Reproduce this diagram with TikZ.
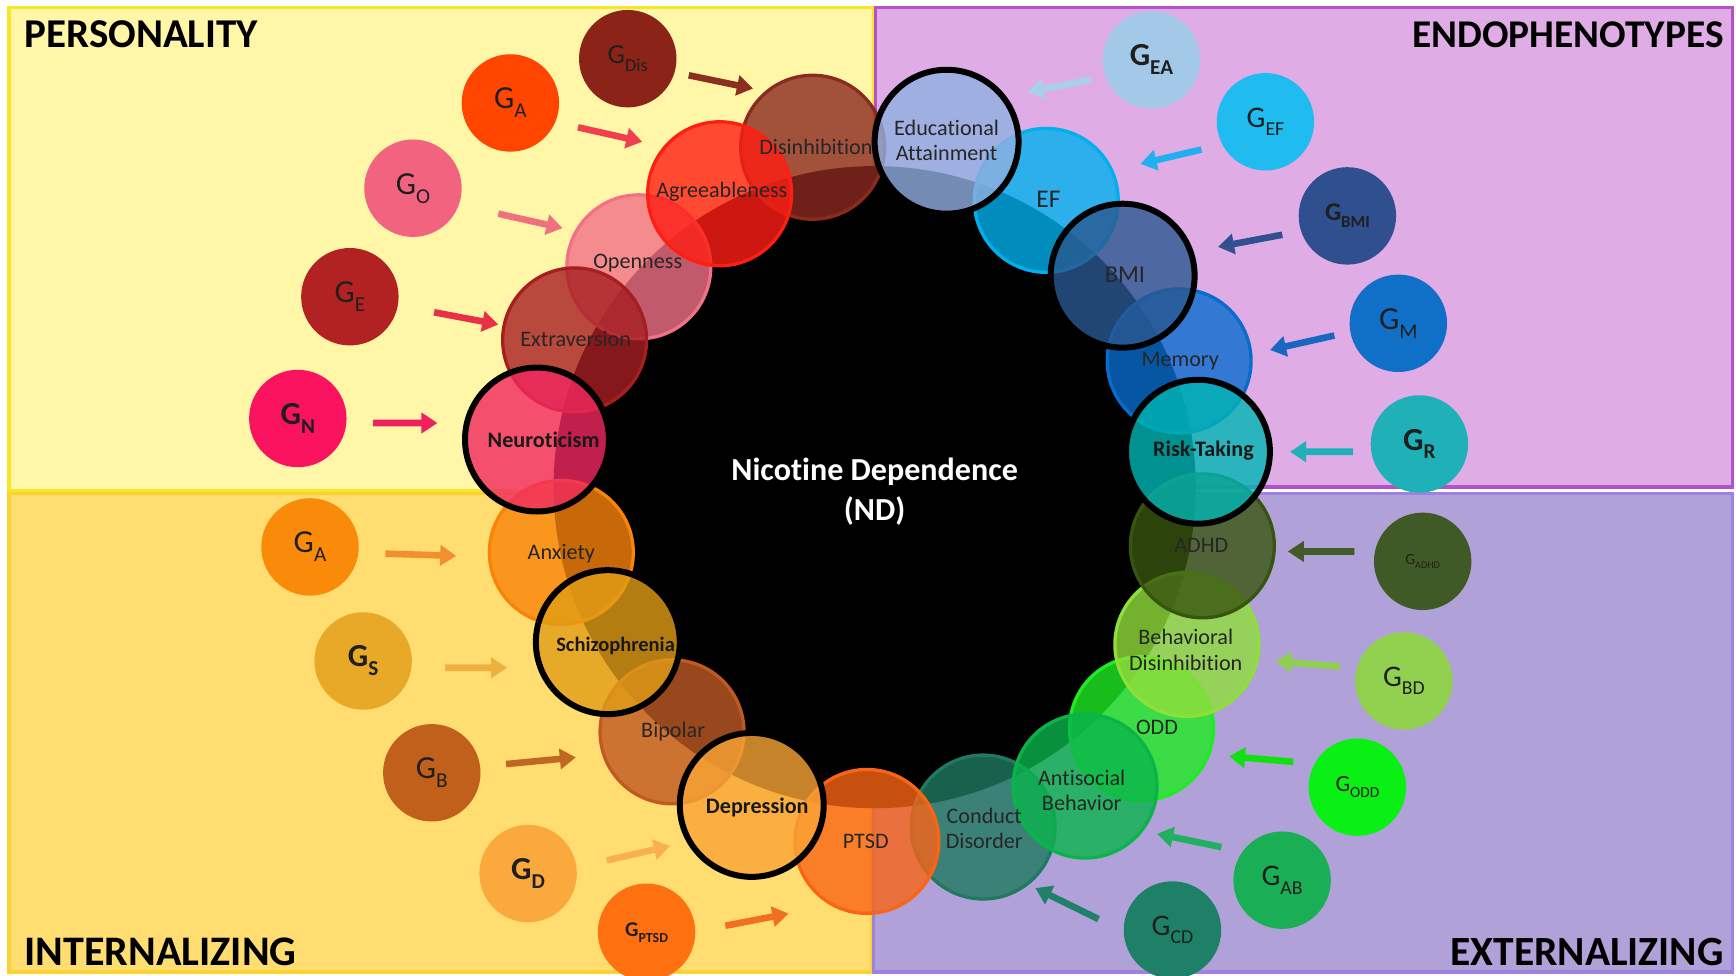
\documentclass[tikz,border=0pt]{standalone}
\usepackage{fontspec}
\setmainfont{Carlito}[Ligatures=NoCommon]
\usetikzlibrary{arrows.meta,calc}
% quadrant colours
\definecolor{persBG}{RGB}{255,246,168}\definecolor{persBD}{RGB}{250,230,40}
\definecolor{endoBG}{RGB}{223,172,230}\definecolor{endoBD}{RGB}{180,80,200}
\definecolor{intBG}{RGB}{255,221,112}\definecolor{intBD}{RGB}{250,210,50}
\definecolor{extBG}{RGB}{177,161,217}\definecolor{extBD}{RGB}{160,130,220}
% gene colours
\definecolor{gDis}{RGB}{139,35,25}\definecolor{gA}{RGB}{255,69,0}
\definecolor{gO}{RGB}{242,99,128}\definecolor{gE}{RGB}{178,34,34}
\definecolor{gN}{RGB}{250,20,95}\definecolor{gAtwo}{RGB}{250,138,10}
\definecolor{gS}{RGB}{232,168,40}\definecolor{gB}{RGB}{192,96,26}
\definecolor{gD}{RGB}{250,170,60}\definecolor{gPTSD}{RGB}{255,112,16}
\definecolor{gEA}{RGB}{164,200,232}\definecolor{gEF}{RGB}{32,188,240}
\definecolor{gBMI}{RGB}{47,79,143}\definecolor{gM}{RGB}{16,112,200}
\definecolor{gR}{RGB}{32,176,184}\definecolor{gADHD}{RGB}{63,90,38}
\definecolor{gBD}{RGB}{146,208,80}\definecolor{gODD}{RGB}{10,240,20}
\definecolor{gAB}{RGB}{26,174,85}\definecolor{gCD}{RGB}{31,128,104}
% ring colours
\definecolor{rDis}{RGB}{139,42,32}\definecolor{rAgr}{RGB}{255,30,20}
\definecolor{rOpe}{RGB}{242,113,133}\definecolor{rExt}{RGB}{167,30,33}
\definecolor{rNeu}{RGB}{242,39,95}\definecolor{rAnx}{RGB}{249,132,10}
\definecolor{rSch}{RGB}{226,157,22}\definecolor{rBip}{RGB}{192,89,35}
\definecolor{rDep}{RGB}{249,164,53}\definecolor{rPTSD}{RGB}{249,101,22}
\definecolor{rCD}{RGB}{31,122,96}\definecolor{rAB}{RGB}{10,180,75}
\definecolor{rODD}{RGB}{31,235,34}\definecolor{rBD}{RGB}{144,222,59}
\definecolor{rADHD}{RGB}{56,85,15}\definecolor{rRisk}{RGB}{0,182,180}
\definecolor{rMem}{RGB}{8,108,205}\definecolor{rBMI}{RGB}{42,88,145}
\definecolor{rEF}{RGB}{0,176,236}\definecolor{rEA}{RGB}{145,176,224}
% arrow colours
\definecolor{aDis}{RGB}{139,48,32}\definecolor{aA}{RGB}{240,64,80}
\definecolor{aO}{RGB}{240,112,128}\definecolor{aE}{RGB}{232,48,72}
\definecolor{aN}{RGB}{240,32,96}\definecolor{aAtwo}{RGB}{240,144,48}
\definecolor{aS}{RGB}{240,176,64}\definecolor{aB}{RGB}{192,104,32}
\definecolor{aD}{RGB}{248,176,80}\definecolor{aPTSD}{RGB}{240,112,32}
\definecolor{aEA}{RGB}{168,208,232}\definecolor{aEF}{RGB}{32,176,240}
\definecolor{aBMI}{RGB}{48,80,144}\definecolor{aM}{RGB}{24,104,192}
\definecolor{aR}{RGB}{32,176,184}\definecolor{aADHD}{RGB}{64,90,40}
\definecolor{aBD}{RGB}{144,208,80}\definecolor{aODD}{RGB}{16,224,16}
\definecolor{aAB}{RGB}{32,176,96}\definecolor{aCD}{RGB}{32,128,104}
\newcommand\gsubx[1]{\raisebox{-0.28em}{\scalebox{0.66}{#1}}}
\tikzset{
  quad/.style 2 args={fill=#1,draw=#2,line width=3.3pt},
  ring/.style={circle,minimum size=130pt,inner sep=0pt,fill=#1,fill opacity=0.8,draw=#1,line width=3.3pt},
  ringk/.style={circle,minimum size=130pt,inner sep=0pt,fill=#1,fill opacity=0.8,draw=black,line width=6pt},
  gene/.style={circle,minimum size=88pt,inner sep=0pt,fill=#1,text=black!88},
  lab/.style={font=\fontsize{20}{23}\selectfont,text=black!85,align=center,inner sep=0pt},
  labb/.style={font=\bfseries\fontsize{20}{23}\selectfont,text=black!90,align=center,inner sep=0pt},
  arr/.style={draw=#1,line width=6.6pt,-{Triangle[length=16pt,width=20pt]}},
  qtitle/.style={font=\bfseries\fontsize{#1}{40}\selectfont,text=black,inner sep=0pt},
}
\begin{document}
\begin{tikzpicture}[x=1pt,y=-1pt,scale=1.1071,transform shape]
\useasboundingbox (0,0) rectangle (1568,881);
\fill[white] (0,0) rectangle (1568,881);
% quadrants
\path[quad={persBG}{persBD}] (8,7) rectangle (789,443);
\path[quad={endoBG}{endoBD}] (791,7) rectangle (1565,440);
\path[quad={intBG}{intBD}] (8,446) rectangle (787,878);
\path[quad={extBG}{extBD}] (789,446) rectangle (1565,878);
% centre disc
\node[circle,fill=black,minimum size=580pt,inner sep=0pt] (disc) at (790,440) {};
% ring circles (coloured border)
\node[ring=rDis] (dis) at (734,133) {};
\node[ring=rOpe] (ope) at (577,241) {};
\node[ring=rAgr] (agr) at (650,175) {};
\node[ring=rExt] (ext) at (519,307) {};
\node[ring=rAnx] (anx) at (507,499) {};
\node[ring=rBip] (bip) at (607,661) {};
\node[ring=rCD] (cd) at (888,747) {};
\node[ring=rPTSD] (ptsd) at (783,760) {};
\node[ring=rODD] (odd) at (1031,658) {};
\node[ring=rAB] (ab) at (980,710) {};
\node[ring=rBD] (bd) at (1072,582) {};
\node[ring=rADHD] (adhd) at (1086,493) {};
\node[ring=rMem] (mem) at (1065,326) {};
\node[ring=rEF] (ef) at (945,181) {};
% labels of those
\node[lab] (ldis) at (737,133) {Disinhibition};
\node[lab] (lagr) at (652,173) {Agreeableness};
\node[lab] (lope) at (576,238) {Openness};
\node[lab] (lext) at (520,306) {Extraversion};
\node[lab] (lanx) at (507,500) {Anxiety};
\node[lab] (lbip) at (608,661) {Bipolar};
\node[lab] (lptsd) at (782,760) {PTSD};
\node[lab] (lcd) at (889,748) {Conduct\\Disorder};
\node[lab] (lab) at (977,714) {Antisocial\\Behavior};
\node[lab] (lodd) at (1045,657) {ODD};
\node[lab] (lbd) at (1071,587) {Behavioral\\Disinhibition};
\node[lab] (ladhd) at (1085,493) {ADHD};
\node[lab] (lmem) at (1066,326) {Memory};
\node[lab,font=\fontsize{23}{24}\selectfont] (lef) at (947,180) {EF};
% black-bordered ring circles
\node[ringk=rNeu] (neu) at (485,397) {};
\node[labb] (lneu) at (491,397) {Neuroticism};
\node[ringk=rSch] (sch) at (549,580) {};
\node[labb,font=\bfseries\fontsize{18.5}{23}\selectfont] (lsch) at (556,583) {Schizophrenia};
\node[ringk=rDep] (dep) at (679,727) {};
\node[labb] (ldep) at (684,729) {Depression};
\node[ringk=rRisk] (risk) at (1082,408) {};
\node[labb] (lrisk) at (1087,407) {Risk-Taking};
\node[ringk=rBMI] (bmi) at (1014,249) {};
\node[lab,font=\fontsize{22}{24}\selectfont] (lbmi) at (1016,248) {BMI};
\node[ringk=rEA] (ea) at (855,128) {};
\node[lab] (lea) at (855,127) {Educational\\Attainment};
% gene circles
\node[gene=gDis,font=\fontsize{25}{25}\selectfont] (gdis) at (567,53) {G\gsubx{Dis}};
\node[gene=gA,font=\fontsize{29}{29}\selectfont] (ga) at (461,93) {G\gsubx{A}};
\node[gene=gO,font=\fontsize{29}{29}\selectfont] (go) at (373,170) {G\gsubx{O}};
\node[gene=gE,font=\fontsize{29}{29}\selectfont] (ge) at (316,268) {G\gsubx{E}};
\node[gene=gN,font=\bfseries\fontsize{29}{29}\selectfont] (gn) at (269,378) {G\gsubx{N}};
\node[gene=gAtwo,font=\fontsize{29}{29}\selectfont] (gatwo) at (280,494) {G\gsubx{A}};
\node[gene=gS,font=\bfseries\fontsize{29}{29}\selectfont] (gs) at (328,597) {G\gsubx{S}};
\node[gene=gB,font=\fontsize{29}{29}\selectfont] (gb) at (390,698) {G\gsubx{B}};
\node[gene=gD,font=\bfseries\fontsize{29}{29}\selectfont] (gd) at (477,789) {G\gsubx{D}};
\node[gene=gPTSD,font=\bfseries\fontsize{19}{19}\selectfont] (gptsd) at (584,842) {G\gsubx{PTSD}};
\node[gene=gEA,font=\bfseries\fontsize{29}{29}\selectfont] (gea) at (1040,54) {G\gsubx{EA}};
\node[gene=gEF,font=\fontsize{27}{27}\selectfont] (gef) at (1143,110) {G\gsubx{EF}};
\node[gene=gBMI,font=\bfseries\fontsize{23}{23}\selectfont] (gbmi) at (1217,195) {G\gsubx{BMI}};
\node[gene=gM,font=\fontsize{29}{29}\selectfont] (gm) at (1263,292) {G\gsubx{M}};
\node[gene=gR,font=\bfseries\fontsize{29}{29}\selectfont] (gr) at (1282,401) {G\gsubx{R}};
\node[gene=gADHD,font=\fontsize{14}{14}\selectfont] (gadhd) at (1285,507) {G\gsubx{ADHD}};
\node[gene=gBD,font=\fontsize{27}{27}\selectfont] (gbd) at (1268,615) {G\gsubx{BD}};
\node[gene=gODD,font=\fontsize{21}{21}\selectfont] (godd) at (1226,711) {G\gsubx{ODD}};
\node[gene=gAB,font=\fontsize{27}{27}\selectfont] (gab) at (1158,795) {G\gsubx{AB}};
\node[gene=gCD,font=\fontsize{27}{27}\selectfont] (gcd) at (1059,840) {G\gsubx{CD}};
% arrows
\draw[arr=aDis] ($(gdis)+(55,15)$) -- ($(dis)+(-54,-53)$);
\draw[arr=aA] ($(ga)+(61,22)$) -- ($(agr)+(-70,-47)$);
\draw[arr=aO] ($(go)+(77,23)$) -- ($(ope)+(-69,-35)$);
\draw[arr=aE] ($(ge)+(76,14)$) -- ($(ext)+(-69,-14)$);
\draw[arr=aN] ($(gn)+(68,4)$) -- ($(neu)+(-90,-15)$);
\draw[arr=aAtwo] ($(gatwo)+(68,6)$) -- ($(anx)+(-95,3)$);
\draw[arr=aS] ($(gs)+(74,6)$) -- ($(sch)+(-91,23)$);
\draw[arr=aB] ($(gb)+(67,-8)$) -- ($(bip)+(-87,23)$);
\draw[arr=aD] ($(gd)+(71,-12)$) -- ($(dep)+(-74,37)$);
\draw[arr=aPTSD] ($(gptsd)+(71,-6)$) -- ($(ptsd)+(-71,65)$);
\draw[arr=aEA] ($(gea)+(-55,18)$) -- ($(ea)+(73,-45)$);
\draw[arr=aEF] ($(gef)+(-58,25)$) -- ($(ef)+(85,-33)$);
\draw[arr=aBMI] ($(gbmi)+(-59,17)$) -- ($(bmi)+(86,-26)$);
\draw[arr=aM] ($(gm)+(-58,11)$) -- ($(mem)+(82,-10)$);
\draw[arr=aR] ($(gr)+(-60,7)$) -- ($(risk)+(83,0)$);
\draw[arr=aADHD] ($(gadhd)+(-62,-9)$) -- ($(adhd)+(77,5)$);
\draw[arr=aBD] ($(gbd)+(-58,-13)$) -- ($(bd)+(80,15)$);
\draw[arr=aODD] ($(godd)+(-58,-23)$) -- ($(odd)+(79,25)$);
\draw[arr=aAB] ($(gab)+(-55,-30)$) -- ($(ab)+(65,43)$);
\draw[arr=aCD] ($(gcd)+(-67,-10)$) -- ($(cd)+(47,55)$);
% titles
\node[qtitle=37,anchor=base west] (tp) at (22,43) {PERSONALITY};
\node[qtitle=35.5,anchor=base east] (te) at (1557,43) {ENDOPHENOTYPES};
\node[qtitle=38,anchor=base west] (ti) at (22,872) {INTERNALIZING};
\node[qtitle=37.5,anchor=base east] (tx) at (1557,872) {EXTERNALIZING};
\node[font=\bfseries\fontsize{29}{36}\selectfont,text=white,align=center] (nd) at (790,444) {Nicotine Dependence\\(ND)};
\end{tikzpicture}
\end{document}
